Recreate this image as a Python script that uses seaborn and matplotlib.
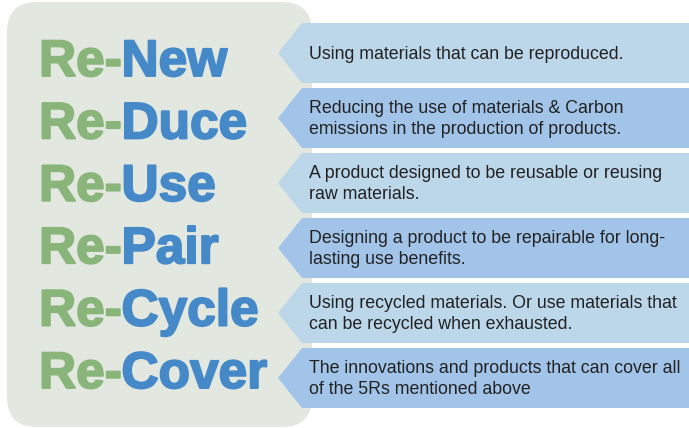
import numpy as np
import matplotlib.pyplot as plt
import matplotlib.patheffects as pe
import seaborn as sns
from matplotlib.patches import Polygon, FancyBboxPatch

# the 6 "Re-" words and what they mean
prefix = ["Re-", "Re-", "Re-", "Re-", "Re-", "Re-"]
words = ["New", "Duce", "Use", "Pair", "Cycle", "Cover"]
descriptions = [
    "Using materials that can be reproduced.",
    "Reducing the use of materials & Carbon\nemissions in the production of products.",
    "A product designed to be reusable or reusing\nraw materials.",
    "Designing a product to be repairable for long-\nlasting use benefits.",
    "Using recycled materials. Or use materials that\ncan be recycled when exhausted.",
    "The innovations and products that can cover all\nof the 5Rs mentioned above",
]
banner_colors = ["#bcd6ea", "#a2c4e8"]

sns.set_theme(style="white")
plt.rcParams['font.family'] = ['Liberation Sans', 'DejaVu Sans']

W, H = 689, 428
fig = plt.figure(figsize=(W / 100, H / 100), dpi=100)
ax = fig.add_axes([0, 0, 1, 1])
ax.set_xlim(0, W)
ax.set_ylim(H, 0)
ax.axis('off')

# grey-green panel behind the words
panel = FancyBboxPatch((7, 2), 305, 425, boxstyle="round,pad=0,rounding_size=30",
                       fc="#e2e8e0", ec="none", zorder=1)
ax.add_patch(panel)

green = "#8ab57a"
blue = "#4589c8"

for i, (p, w, d) in enumerate(zip(prefix, words, descriptions)):
    top = 23 + 65 * i
    bot = top + 60
    cy = (top + bot) / 2
    poly = Polygon([(278, cy), (302, top), (W + 5, top), (W + 5, bot), (302, bot)],
                   closed=True, fc=banner_colors[i % 2], ec="none", zorder=2)
    ax.add_patch(poly)
    ax.text(309, cy + 1, d, fontsize=12.8, color="#222222", va="center", ha="left",
            linespacing=1.3, zorder=3)

    # big heading, slightly thickened with a stroke of the same colour
    ly = 76 + 62.4 * i
    t1 = ax.text(39, ly, p, fontsize=37, fontweight="bold", color=green,
                 va="baseline", ha="left", zorder=3,
                 path_effects=[pe.withStroke(linewidth=1.4, foreground=green)])
    ax.annotate(w, xy=(1, 0), xycoords=t1, va="bottom", ha="left",
                fontsize=37, fontweight="bold", color=blue, zorder=3,
                path_effects=[pe.withStroke(linewidth=1.4, foreground=blue)])

fig.savefig("out.png", dpi=100, facecolor="white")
